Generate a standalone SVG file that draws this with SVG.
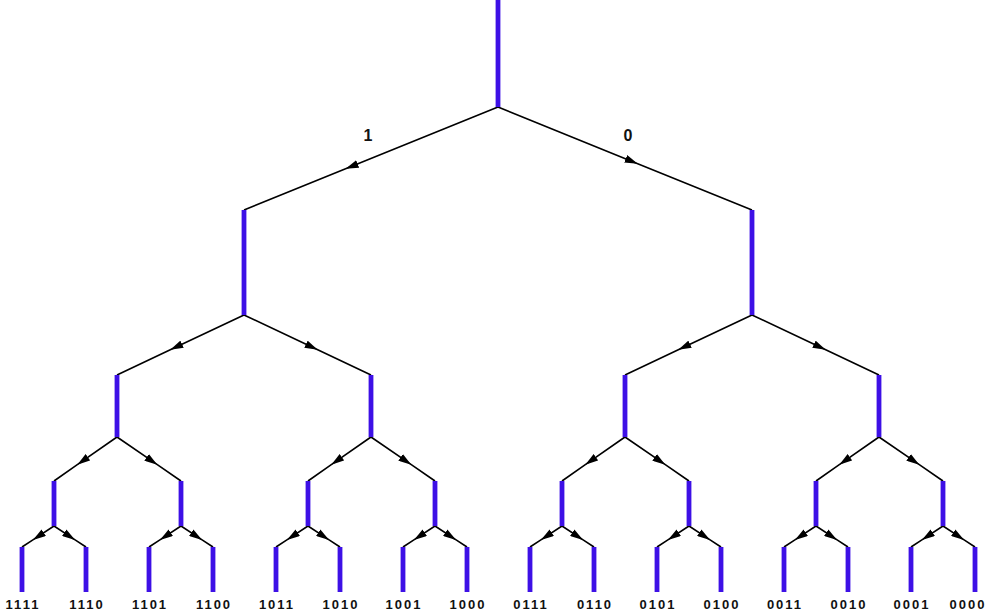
<svg xmlns="http://www.w3.org/2000/svg" width="990" height="616" viewBox="0 0 990 616">
<style>
.b{stroke:#3d10e6;stroke-width:4.8;fill:none}
.e{stroke:#000;stroke-width:1.6;fill:none;marker-mid:url(#ah)}
.lf{font-family:"Liberation Sans",Arial,sans-serif;font-weight:bold;font-size:13px;letter-spacing:2px;text-anchor:middle;fill:#111}
.bl{font-family:"Liberation Sans",Arial,sans-serif;font-weight:bold;font-size:16px;text-anchor:middle;fill:#111}
</style>
<defs>
<marker id="ah" viewBox="0 0 13 8" refX="13" refY="4" markerWidth="13" markerHeight="8" markerUnits="userSpaceOnUse" orient="auto">
<path d="M0,0 L13,4 L0,8 z" fill="#000"/>
</marker>
</defs>
<rect width="990" height="616" fill="#fff"/>
<g id="connectors">
<path class="e" d="M498,107 L345.6,168.8 L244,210"/>
<path class="e" d="M498,107 L637.7,163.7 L752,210"/>
<path class="e" d="M244,315 L170.3,349.8 L117,375"/>
<path class="e" d="M244,315 L317.7,349.8 L371,375"/>
<path class="e" d="M752,315 L678.3,349.8 L625,375"/>
<path class="e" d="M752,315 L825.7,349.8 L879,375"/>
<path class="e" d="M117,437 L77.3,464.7 L54,481"/>
<path class="e" d="M117,437 L157.3,464.7 L181,481"/>
<path class="e" d="M371,437 L331.3,464.7 L308,481"/>
<path class="e" d="M371,437 L411.3,464.7 L435,481"/>
<path class="e" d="M625,437 L585.3,464.7 L562,481"/>
<path class="e" d="M625,437 L665.3,464.7 L689,481"/>
<path class="e" d="M879,437 L839.3,464.7 L816,481"/>
<path class="e" d="M879,437 L919.3,464.7 L943,481"/>
<path class="e" d="M54,526 L32.9,539.9 L22,547"/>
<path class="e" d="M54,526 L75.1,539.9 L86,547"/>
<path class="e" d="M181,526 L159.9,539.9 L149,547"/>
<path class="e" d="M181,526 L202.1,539.9 L213,547"/>
<path class="e" d="M308,526 L286.9,539.9 L276,547"/>
<path class="e" d="M308,526 L329.1,539.9 L340,547"/>
<path class="e" d="M435,526 L413.9,539.9 L403,547"/>
<path class="e" d="M435,526 L456.1,539.9 L467,547"/>
<path class="e" d="M562,526 L540.9,539.9 L530,547"/>
<path class="e" d="M562,526 L583.1,539.9 L594,547"/>
<path class="e" d="M689,526 L667.9,539.9 L657,547"/>
<path class="e" d="M689,526 L710.1,539.9 L721,547"/>
<path class="e" d="M816,526 L794.9,539.9 L784,547"/>
<path class="e" d="M816,526 L837.1,539.9 L848,547"/>
<path class="e" d="M943,526 L921.9,539.9 L911,547"/>
<path class="e" d="M943,526 L964.1,539.9 L975,547"/>
<text class="bl" x="368" y="141">1</text>
<text class="bl" x="628" y="141">0</text>
</g>
<g id="root"><line class="b" x1="498" y1="0" x2="498" y2="107"/></g>
<g id="n1"><line class="b" x1="244" y1="210" x2="244" y2="315"/></g>
<g id="n0"><line class="b" x1="752" y1="210" x2="752" y2="315"/></g>
<g id="n11"><line class="b" x1="117" y1="375" x2="117" y2="437"/></g>
<g id="n10"><line class="b" x1="371" y1="375" x2="371" y2="437"/></g>
<g id="n01"><line class="b" x1="625" y1="375" x2="625" y2="437"/></g>
<g id="n00"><line class="b" x1="879" y1="375" x2="879" y2="437"/></g>
<g id="n111"><line class="b" x1="54" y1="481" x2="54" y2="526"/></g>
<g id="n110"><line class="b" x1="181" y1="481" x2="181" y2="526"/></g>
<g id="n101"><line class="b" x1="308" y1="481" x2="308" y2="526"/></g>
<g id="n100"><line class="b" x1="435" y1="481" x2="435" y2="526"/></g>
<g id="n011"><line class="b" x1="562" y1="481" x2="562" y2="526"/></g>
<g id="n010"><line class="b" x1="689" y1="481" x2="689" y2="526"/></g>
<g id="n001"><line class="b" x1="816" y1="481" x2="816" y2="526"/></g>
<g id="n000"><line class="b" x1="943" y1="481" x2="943" y2="526"/></g>
<g id="n1111"><line class="b" x1="22" y1="547" x2="22" y2="592"/><text class="lf" x="23" y="609">1111</text></g>
<g id="n1110"><line class="b" x1="86" y1="547" x2="86" y2="592"/><text class="lf" x="87" y="609">1110</text></g>
<g id="n1101"><line class="b" x1="149" y1="547" x2="149" y2="592"/><text class="lf" x="150" y="609">1101</text></g>
<g id="n1100"><line class="b" x1="213" y1="547" x2="213" y2="592"/><text class="lf" x="214" y="609">1100</text></g>
<g id="n1011"><line class="b" x1="276" y1="547" x2="276" y2="592"/><text class="lf" x="277" y="609">1011</text></g>
<g id="n1010"><line class="b" x1="340" y1="547" x2="340" y2="592"/><text class="lf" x="341" y="609">1010</text></g>
<g id="n1001"><line class="b" x1="403" y1="547" x2="403" y2="592"/><text class="lf" x="404" y="609">1001</text></g>
<g id="n1000"><line class="b" x1="467" y1="547" x2="467" y2="592"/><text class="lf" x="468" y="609">1000</text></g>
<g id="n0111"><line class="b" x1="530" y1="547" x2="530" y2="592"/><text class="lf" x="531" y="609">0111</text></g>
<g id="n0110"><line class="b" x1="594" y1="547" x2="594" y2="592"/><text class="lf" x="595" y="609">0110</text></g>
<g id="n0101"><line class="b" x1="657" y1="547" x2="657" y2="592"/><text class="lf" x="658" y="609">0101</text></g>
<g id="n0100"><line class="b" x1="721" y1="547" x2="721" y2="592"/><text class="lf" x="722" y="609">0100</text></g>
<g id="n0011"><line class="b" x1="784" y1="547" x2="784" y2="592"/><text class="lf" x="785" y="609">0011</text></g>
<g id="n0010"><line class="b" x1="848" y1="547" x2="848" y2="592"/><text class="lf" x="849" y="609">0010</text></g>
<g id="n0001"><line class="b" x1="911" y1="547" x2="911" y2="592"/><text class="lf" x="912" y="609">0001</text></g>
<g id="n0000"><line class="b" x1="975" y1="547" x2="975" y2="592"/><text class="lf" x="968" y="609">0000</text></g>
</svg>
